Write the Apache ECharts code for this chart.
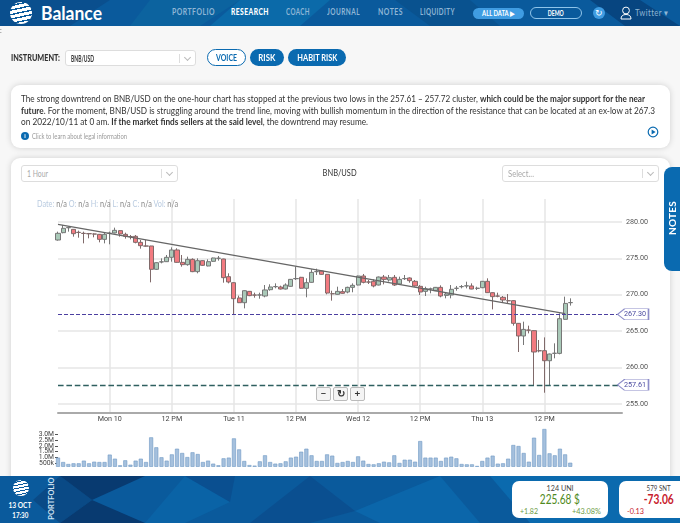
<!DOCTYPE html>
<html>
<head>
<meta charset="utf-8" />
<title>BNB/USD</title>
<script src="https://cdn.jsdelivr.net/npm/echarts@6/dist/echarts.min.js"></script>
<style>
    html, body { margin: 0; padding: 0; width: 680px; height: 523px; overflow: hidden; background: #f7f7f7; font-family: Lato, sans-serif; color: #333; }
    .abs { position: absolute; white-space: nowrap; }
    .bar { position: absolute; left: 0; width: 680px; background: #0a5a9c; overflow: hidden; }
    .bar svg { position: absolute; left: 0; top: 0; }
    .card { position: absolute; background: #fff; border-radius: 9px; box-shadow: 0 0 6px rgba(0,0,0,.16); }
    .nav { position: absolute; top: 7px; font-size: 8.5px; letter-spacing: .6px; color: #8fb6d6; font-weight: 700; white-space: nowrap; }
    .pill { position: absolute; border-radius: 9px; text-align: center; font-weight: 700; box-sizing: border-box; white-space: nowrap; }
    .sel { position: absolute; background: #fff; border: 1px solid #ddd; border-radius: 3px; box-sizing: border-box; font-size: 9px; color: #aaa; padding: 2px 0 0 5px; white-space: nowrap; }
    .sel i { position: absolute; right: 15px; top: 3px; height: 9px; border-left: 1px solid #ddd; }
    .sel b { position: absolute; right: 5px; top: 4px; width: 4px; height: 4px; border-right: 1px solid #bbb; border-bottom: 1px solid #bbb; transform: rotate(45deg); }
    .ln { position: absolute; left: 21px; font-size: 9.6px; color: #333; white-space: nowrap; line-height: 12px; }
    .zb { position: absolute; top: 387px; width: 15px; height: 14px; background: #f4f4f4; border: 1px solid #bbb; border-radius: 2px; box-sizing: border-box; font-size: 10px; line-height: 11px; text-align: center; font-weight: 700; color: #333; }
    #legend { position: absolute; left: 37px; top: 198px; font-size: 9.5px; color: #888; white-space: nowrap; }
    #legend span { color: #b9cbe0; }
    .tile { position: absolute; top: 481px; height: 37px; background: #fff; border-radius: 7px; }
    .mid { text-align: center; }
    [data-w] { display: inline-block; }
</style>
</head>
<body>

<div class="card" style="left:11px;top:85px;width:659px;height:63px;"></div>
<div class="card" style="left:11px;top:158px;width:659px;height:340px;"></div>

<div id="main" style="position:absolute;left:0;top:0;width:680px;height:523px;"></div>

<!-- top bar -->
<div class="bar" style="top:0;height:26px;">
    <svg width="680" height="26">
        <polygon points="0,0 110,0 70,26 0,26" fill="#0a4f8e" />
        <polygon points="150,0 240,0 200,26 130,26" fill="#0c639f" />
        <polygon points="240,0 330,0 300,26 210,26" fill="#0b6aa9" />
        <polygon points="395,0 470,0 500,26 430,26" fill="#09528f" />
        <polygon points="590,0 640,0 680,26 625,26" fill="#074580" />
    </svg>
    <div class="abs" style="left:10px;top:2px;width:22px;height:22px;border-radius:50%;background:repeating-linear-gradient(168deg,#fff 0 3px,#0a5a9c 3px 4.4px);"></div>
    <div class="abs" style="left:41px;top:0;font-size:18.5px;line-height:26px;font-weight:700;color:#fff;"><span data-w="61">Balance</span></div>
    <div class="nav" style="left:172px;"><span data-w="43">PORTFOLIO</span></div>
    <div class="nav" style="left:231px;color:#fff;font-weight:900;"><span data-w="38">RESEARCH</span></div>
    <div class="nav" style="left:286px;"><span data-w="24">COACH</span></div>
    <div class="nav" style="left:327px;"><span data-w="33">JOURNAL</span></div>
    <div class="nav" style="left:378px;"><span data-w="25">NOTES</span></div>
    <div class="nav" style="left:420px;"><span data-w="35">LIQUIDITY</span></div>
    <div class="pill mid" style="left:473px;top:8px;width:51px;height:11px;background:#3f9ce2;color:#fff;font-size:7px;line-height:11px;"><span data-w="32">ALL DATA &#9654;</span></div>
    <div class="pill mid" style="left:530px;top:7px;width:52px;height:12px;border:1px solid #8fc4ea;color:#fff;font-size:7px;line-height:10px;"><span data-w="16">DEMO</span></div>
    <div class="abs" style="left:593px;top:7px;width:12px;height:12px;border-radius:50%;background:#3f9ce2;color:#fff;font-size:9px;line-height:12px;text-align:center;">&#8635;</div>
    <svg class="abs" style="left:620px;top:6px;" width="12" height="14"><circle cx="6" cy="4.5" r="3.4" fill="none" stroke="#fff" /><path d="M1 13 Q1 8.5 6 8.5 Q11 8.5 11 13 Z" fill="none" stroke="#fff" /></svg>
    <div class="abs" style="left:635px;top:7px;font-size:9px;color:#8fb6d6;letter-spacing:.5px;"><span data-w="34">Twitter &#9662;</span></div>
</div>

<!-- instrument row -->
<div class="abs" style="left:0;top:28px;font-size:7px;color:#666;line-height:5px;">:</div>
<div class="abs" style="left:11px;top:52px;font-size:9px;font-weight:900;color:#333;"><span data-w="49">INSTRUMENT:</span></div>
<div class="sel" style="left:65px;top:50px;width:131px;height:16px;color:#333;font-weight:700;"><span data-w="23">BNB/USD</span><i></i><b></b></div>
<div class="pill mid" style="left:207px;top:49px;width:39px;height:17px;background:#fff;border:1px solid #0a6ab0;color:#0a6ab0;font-size:9px;line-height:15px;"><span data-w="21">VOICE</span></div>
<div class="pill mid" style="left:250px;top:49px;width:34px;height:17px;background:#0a6ab0;color:#fff;font-size:9px;line-height:17px;"><span data-w="17">RISK</span></div>
<div class="pill mid" style="left:288px;top:49px;width:58px;height:17px;background:#0a6ab0;color:#fff;font-size:9px;line-height:17px;"><span data-w="40">HABIT RISK</span></div>

<!-- commentary -->
<div class="ln" style="top:92.5px;"><span data-w="624">The strong downtrend on BNB/USD on the one-hour chart has stopped at the previous two lows in the 257.61 &#8211; 257.72 cluster, <b>which could be the major support for the near</b></span></div>
<div class="ln" style="top:104.5px;"><span data-w="634"><b>future</b>. For the moment, BNB/USD is struggling around the trend line, moving with bullish momentum in the direction of the resistance that can be located at an ex-low at 267.3</span></div>
<div class="ln" style="top:116px;"><span data-w="347">on 2022/10/11 at 0 am. <b>If the market finds sellers at the said level</b>, the downtrend may resume.</span></div>
<div class="abs" style="left:21px;top:132px;width:8px;height:8px;border-radius:50%;background:#0a6ab0;color:#fff;font-size:6px;line-height:8px;text-align:center;font-weight:700;">i</div>
<div class="abs" style="left:32px;top:132px;font-size:7px;color:#999;"><span data-w="95">Click to learn about legal information</span></div>
<svg class="abs" style="left:647px;top:126px;" width="12" height="12"><circle cx="6" cy="6" r="4.8" fill="none" stroke="#0a6ab0" stroke-width="1.2" /><polygon points="4.6,3.4 8.6,6 4.6,8.6" fill="#0a6ab0" /></svg>

<!-- chart head -->
<div class="sel" style="left:21px;top:165px;width:157px;height:17px;"><span data-w="21">1 Hour</span><i></i><b></b></div>
<div class="abs mid" style="left:300px;width:80px;top:167px;font-size:9.5px;color:#333;"><span data-w="34">BNB/USD</span></div>
<div class="sel" style="left:502px;top:165px;width:157px;height:17px;"><span data-w="26">Select...</span><i></i><b></b></div>
<div id="legend"><div data-w="141"><span>Date:</span> n/a <span>O:</span> n/a <span>H:</span> n/a <span>L:</span> n/a <span>C:</span> n/a <span>Vol:</span> n/a</div></div>

<div class="zb" style="left:316px;">&#8722;</div>
<div class="zb" style="left:333px;">&#8635;</div>
<div class="zb" style="left:350px;">+</div>

<div class="abs" style="left:664px;top:167px;width:16px;height:104px;background:#0a6ab0;border-radius:8px 0 0 8px;"></div>
<div class="abs" style="left:652px;top:212px;width:40px;text-align:center;transform:rotate(-90deg);font-size:10px;font-weight:700;color:#fff;letter-spacing:.2px;">NOTES</div>

<!-- bottom bar -->
<div class="bar" style="top:476px;height:47px;">
    <svg width="680" height="47">
        <polygon points="60,0 92,24 60,47 33,24" fill="#0a4a86" />
        <polygon points="60,0 145,0 92,24" fill="#083a70" />
        <polygon points="92,24 145,47 60,47" fill="#083a70" />
        <polygon points="185,0 230,26 185,47 145,47" fill="#0a63a6" />
        <polygon points="185,0 235,0 230,26" fill="#0a4f90" />
        <polygon points="310,0 355,35 310,47 250,47" fill="#0a4f90" />
        <polygon points="355,35 440,0 480,47 380,47" fill="#0b66aa" />
        <polygon points="490,0 700,0 700,47 530,47" fill="#0b6aae" />
    </svg>
    <div class="abs" style="left:13px;top:4px;width:16px;height:16px;border-radius:50%;background:repeating-linear-gradient(168deg,#fff 0 2.2px,#0a5a9c 2.2px 3.2px);"></div>
    <div class="abs mid" style="left:0;width:40px;top:24px;font-size:8px;font-weight:700;color:#fff;"><span data-w="23">13 OCT</span></div>
    <div class="abs mid" style="left:0;width:40px;top:34px;font-size:8px;font-weight:700;color:#fff;"><span data-w="16">17:30</span></div>
    <div class="abs" style="left:26px;width:50px;top:18px;text-align:center;transform:rotate(-90deg);font-size:7.5px;font-weight:700;color:#cfe2f2;">PORTFOLIO</div>
</div>
<div class="tile" style="left:512px;width:96px;">
    <div class="abs mid" style="left:0;width:96px;top:2px;font-size:8px;color:#444;"><span data-w="27">124 UNI</span></div>
    <div class="abs mid" style="left:0;width:96px;top:10px;font-size:13.5px;color:#4f8a21;font-weight:400;"><span data-w="40">225.68 $</span></div>
    <div class="abs" style="left:8px;top:25px;font-size:8px;color:#6d9c46;"><span data-w="18">+1.82</span></div>
    <div class="abs" style="left:60px;top:25px;font-size:8px;color:#6d9c46;"><span data-w="29">+43.08%</span></div>
</div>
<div class="tile" style="left:619px;width:80px;">
    <div class="abs mid" style="left:0;width:80px;top:2px;font-size:8px;color:#444;"><span data-w="24">579 SNT</span></div>
    <div class="abs mid" style="left:0;width:80px;top:10px;font-size:13.5px;color:#c8202c;font-weight:700;"><span data-w="30">-73.06</span></div>
    <div class="abs" style="left:8px;top:25px;font-size:8px;color:#c8202c;"><span data-w="17">-0.13</span></div>
</div>

<script>
    // the picture is squeezed sideways, so squeeze the page text to the same widths
    var fitted = document.querySelectorAll("[data-w]");
    for (var f = 0; f < fitted.length; f++) {
        var el = fitted[f];
        var centred = el.parentNode.className.indexOf("mid") >= 0;
        el.style.transformOrigin = centred ? "center" : "left";
        el.style.transform = "scaleX(" + (el.getAttribute("data-w") / el.getBoundingClientRect().width) + ")";
    }

    // hourly candles
    var opens = [277.52, 278.53, 279.2, 278.99, 278.58, 278.44, 278.4, 278.35, 278.3, 277.61,
        278.44, 278.49, 278.81, 278.3, 278.0, 278.03, 277.2, 276.7, 276.7, 273.49,
        274.5, 274.54, 275.14, 276.15, 274.45, 274.13, 274.86, 273.17, 274.68, 273.95,
        274.59, 275.0, 274.91, 272.48, 271.65, 269.55, 268.9, 270.46, 269.96, 269.95,
        269.82, 270.69, 271.1, 271.06, 270.78, 271.15, 272.2, 272.39, 270.88, 271.7,
        273.16, 273.26, 272.8, 270.14, 270.05, 270.42, 270.37, 271.01, 271.33, 272.57,
        271.75, 271.84, 271.33, 272.43, 272.02, 272.39, 271.47, 272.2, 272.3, 271.84,
        271.15, 270.46, 270.78, 270.55, 271.01, 269.9, 269.96, 270.87, 271.1, 271.2,
        271.2, 270.87, 270.96, 271.84, 270.28, 269.82, 269.64, 269.18, 269.18, 266.06,
        264.32, 265.14, 265.05, 262.3, 262.3, 260.92, 261.93, 261.93, 266.61, 268.9];
    var closes = [278.44, 279.13, 279.25, 278.39, 278.55, 278.42, 278.38, 278.33, 277.61, 278.3,
        278.46, 278.85, 278.35, 278.03, 277.98, 277.2, 276.74, 276.68, 273.49, 274.4,
        274.52, 275.14, 276.15, 274.45, 274.13, 274.86, 273.17, 274.68, 274.04, 274.54,
        275.05, 275.02, 272.34, 271.75, 269.45, 268.9, 270.55, 269.87, 269.94, 269.97,
        270.65, 271.06, 271.12, 270.78, 271.33, 272.11, 272.22, 270.88, 271.65, 273.07,
        273.18, 272.8, 270.23, 270.12, 270.46, 270.19, 271.01, 271.29, 272.57, 271.7,
        271.73, 271.2, 272.43, 272.11, 272.34, 271.33, 272.11, 272.22, 271.93, 271.2,
        270.37, 270.83, 270.8, 271.01, 269.82, 270.1, 270.74, 270.89, 271.12, 271.22,
        270.78, 270.89, 271.84, 270.28, 269.73, 269.8, 269.27, 269.16, 266.06, 264.32,
        265.23, 265.12, 262.12, 262.28, 260.92, 261.84, 261.95, 266.7, 268.8, 268.92];
    var lows = [277.43, 278.44, 278.67, 277.98, 277.84, 277.06, 277.75, 277.89, 277.2, 277.06,
        276.93, 278.44, 277.98, 277.71, 277.61, 277.06, 276.33, 276.6, 271.7, 273.4,
        274.31, 274.5, 274.54, 274.4, 273.85, 273.99, 273.1, 272.94, 273.95, 273.9,
        274.5, 274.68, 271.65, 271.56, 267.25, 268.85, 268.12, 269.8, 269.59, 269.45,
        269.64, 270.55, 270.88, 270.72, 270.72, 271.1, 272.02, 270.82, 269.64, 271.65,
        272.71, 272.75, 270.05, 269.18, 270.0, 270.15, 270.19, 270.33, 271.28, 271.56,
        271.47, 271.01, 271.28, 271.42, 271.8, 271.2, 271.33, 272.02, 271.65, 271.1,
        269.96, 269.82, 270.19, 270.5, 269.64, 269.5, 269.5, 270.55, 270.87, 270.87,
        270.75, 270.64, 270.9, 270.24, 267.98, 269.64, 268.9, 268.72, 265.74, 262.12,
        263.08, 264.68, 257.58, 262.07, 256.52, 257.58, 261.25, 261.8, 266.55, 268.5];
    var highs = [278.67, 279.59, 279.36, 279.0, 278.81, 278.67, 278.49, 278.44, 278.35, 278.53,
        278.67, 279.22, 278.85, 278.53, 278.21, 278.21, 277.52, 277.52, 276.72, 274.45,
        275.0, 275.46, 276.51, 276.38, 275.46, 275.23, 275.0, 275.0, 274.72, 274.86,
        275.1, 275.32, 274.95, 272.94, 271.7, 269.87, 270.6, 270.5, 270.28, 270.28,
        271.33, 271.43, 271.56, 271.24, 271.56, 272.16, 273.86, 272.45, 272.25, 273.49,
        273.58, 273.3, 272.85, 270.55, 271.1, 270.78, 271.1, 271.56, 272.62, 272.85,
        272.02, 272.11, 272.5, 272.71, 272.71, 272.71, 272.48, 272.71, 272.39, 272.02,
        271.33, 271.1, 270.97, 271.06, 271.29, 270.3, 271.33, 271.2, 271.33, 271.79,
        271.56, 271.1, 271.88, 272.25, 270.33, 270.28, 269.82, 270.09, 269.25, 266.1,
        266.29, 265.74, 265.1, 263.77, 264.13, 261.9, 263.31, 267.43, 269.73, 269.5];
    // traded volume, millions
    var volumes = [0.98, 0.60, 0.43, 0.49, 0.49, 0.72, 0.49, 0.63, 0.60, 0.60,
        1.24, 0.89, 0.32, 0.75, 0.37, 0.72, 0.89, 0.60, 2.73, 1.87,
        1.01, 0.72, 1.26, 1.75, 1.38, 1.03, 1.44, 1.29, 0.60, 0.72,
        0.46, 0.32, 0.92, 0.98, 2.64, 1.69, 0.69, 0.34, 0.29, 0.66,
        1.18, 0.60, 0.46, 0.49, 0.66, 0.98, 1.06, 1.49, 1.75, 1.18,
        0.69, 0.69, 1.26, 1.15, 0.52, 0.60, 0.69, 0.60, 1.09, 0.72,
        0.43, 0.40, 0.49, 0.63, 0.57, 1.18, 0.52, 0.80, 0.80, 0.63,
        2.41, 0.98, 0.98, 0.98, 0.69, 0.98, 1.06, 0.92, 0.43, 0.40,
        0.40, 0.26, 0.69, 0.98, 1.15, 0.46, 0.49, 0.89, 2.07, 1.98,
        1.38, 0.63, 2.70, 1.21, 3.45, 1.35, 1.18, 1.75, 1.26, 0.54];

    var tickSlots = [10, 22, 34, 46, 58, 70, 82, 94];
    var tickLabels = ["Mon 10", "12 PM", "Tue 11", "12 PM", "Wed 12", "12 PM", "Thu 13", "12 PM"];
    var priceTicks = [255, 260, 265, 270, 275, 280];
    // volume labels sit too close for one axis, so two axes take turns
    var volumeTicksA = [0.5, 1.5, 2.5];
    var volumeTicksB = [1, 2, 3];
    var volumeLabelsA = ["500k", "1.5M", "2.5M"];
    var volumeLabelsB = ["1.0M", "2.0M", "3.0M"];
    var levels = [267.3, 257.61];
    var levelColors = ["#4b3fa0", "#2f5f5f"];
    var trendFrom = [0, 279.68];
    var trendTo = [98, 267.4];

    // one slot per hour, the last ten stay empty
    var slotCount = 110;
    var slots = [];
    for (var s = 0; s < slotCount; s++) { slots.push(s); }

    var candles = [];
    for (var i = 0; i < opens.length; i++) {
        candles.push([opens[i], closes[i], lows[i], highs[i]]);
    }

    function isTick(index) { return tickSlots.indexOf(index) >= 0; }

    function volumeAxis(ticks, labels) {
        return {
            type: "value", gridIndex: 1, position: "left", min: 0.215, max: 3.45,
            axisLine: { show: false },
            axisTick: { show: true, length: 3, customValues: ticks, lineStyle: { color: "#555" } },
            axisLabel: {
                customValues: ticks, showMinLabel: true, showMaxLabel: true,
                formatter: function (v) { return labels[ticks.indexOf(v)]; },
                fontSize: 6.8, color: "#444", margin: 4
            },
            splitLine: { show: false }
        };
    }

    var axisFont = "Roboto";
    var tagPath = "path://M0 7 L7 0 L31 0 L31 14 L7 14 Z";
    var levelMarks = levels.map(function (v, n) {
        return {
            coord: [slotCount - 1, v],
            symbol: tagPath,
            symbolSize: [31, 11],
            symbolOffset: [11, 0],
            itemStyle: { color: "#fff", borderColor: "#8c8cc8", borderWidth: 1 },
            label: { show: true, formatter: v.toFixed(2), color: "#4b4ba0", fontSize: 7.2, fontFamily: axisFont, offset: [2, 0] }
        };
    });

    var dom = document.getElementById("main");
    var myChart = echarts.init(dom, null, { renderer: "canvas" });
    myChart.setOption({
        animation: false,
        backgroundColor: "transparent",
        textStyle: { fontFamily: axisFont },
        grid: [
            { left: 58, top: 199, width: 564, height: 214 },
            { left: 58, top: 429, width: 564, height: 37.5 }
        ],
        xAxis: [
            {
                type: "category", gridIndex: 0, data: slots, boundaryGap: false,
                axisLine: { lineStyle: { color: "#aaa", width: 2 } },
                axisTick: { show: false },
                axisLabel: {
                    interval: function (index) { return isTick(index); },
                    formatter: function (v, index) { return tickLabels[tickSlots.indexOf(index)] || ""; },
                    fontSize: 7.2, color: "#444", margin: 3
                },
                splitLine: {
                    show: true,
                    interval: function (index) { return isTick(index); },
                    lineStyle: { color: "#e6e6e6", width: 1.5 }
                }
            },
            {
                type: "category", gridIndex: 1, data: slots, boundaryGap: false,
                axisLine: { show: false }, axisTick: { show: false }, axisLabel: { show: false }, splitLine: { show: false }
            }
        ],
        yAxis: [
            {
                type: "value", gridIndex: 0, position: "right", min: 253.73, max: 283.16, scale: true,
                axisLine: { show: false },
                axisTick: { show: false, customValues: priceTicks },
                axisLabel: {
                    customValues: priceTicks,
                    formatter: function (v) { return v.toFixed(2); },
                    fontSize: 7.2, color: "#555", margin: 4
                },
                splitLine: { show: true, lineStyle: { color: "#e6e6e6", width: 1.5 } }
            },
            volumeAxis(volumeTicksA, volumeLabelsA),
            volumeAxis(volumeTicksB, volumeLabelsB)
        ],
        series: [
            {
                type: "candlestick", xAxisIndex: 0, yAxisIndex: 0, data: candles, barWidth: 4.6, clip: true,
                itemStyle: { color: "#a9c9b8", color0: "#f27a80", borderColor: "#777", borderColor0: "#806a6a", borderWidth: 1 },
                markLine: {
                    silent: true, symbol: "none", animation: false,
                    label: { show: false },
                    data: [
                        [{ coord: trendFrom, lineStyle: { color: "#666", type: "solid", width: 1.2 } }, { coord: trendTo }],
                        { yAxis: levels[0], lineStyle: { color: levelColors[0], type: "dashed", width: 1 } },
                        { yAxis: levels[1], lineStyle: { color: levelColors[1], type: "dashed", width: 1.4 } }
                    ]
                },
                markPoint: { silent: true, animation: false, data: levelMarks }
            },
            {
                type: "bar", xAxisIndex: 1, yAxisIndex: 1, data: volumes, barWidth: 4,
                itemStyle: { color: "#a5c0dd", borderColor: "#6e98c4", borderWidth: 0.6 }
            }
        ]
    });
</script>
</body>
</html>
